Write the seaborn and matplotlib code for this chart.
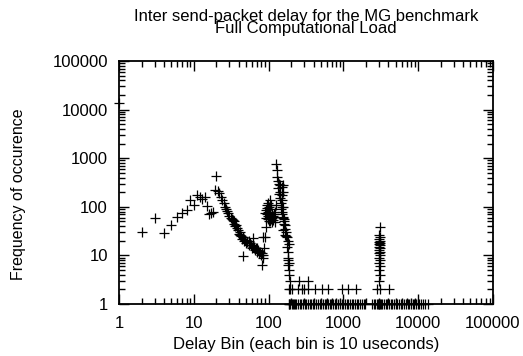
import matplotlib
matplotlib.use("Agg")
import matplotlib.pyplot as plt
import matplotlib.ticker as mticker
import seaborn as sns
import pandas as pd

# ---- data ----
rise_x = [1, 2, 3, 4, 5, 6, 7, 8, 9, 10, 11, 12, 13, 14, 15, 16, 17, 18]
rise_y = [13700, 30, 60, 29, 42, 61, 76, 85, 136, 109, 172, 160, 144, 160, 105, 70, 74, 78]

fall_x = [19, 20, 21, 22, 23, 24, 25, 26, 27, 28, 29, 30, 31, 32, 33, 34, 35, 36, 37, 38,
          39, 40, 41, 42, 43, 44, 45, 46, 47, 48, 50, 52, 54, 55, 56, 58, 59, 60, 62, 62,
          63, 65, 67, 69, 71, 73, 75, 77, 79, 81, 83, 46, 81, 85, 87, 90, 92, 85]
fall_y = [222, 430, 215, 188, 160, 138, 121, 100, 88, 82, 76, 65, 58, 55, 53, 52, 45, 40, 42, 36,
          33, 28, 26, 30, 25, 22, 24, 23.5, 20, 21, 18, 19, 16, 20, 18, 16, 16, 14, 15, 23,
          15, 13, 14, 14, 12, 13, 11, 12, 10, 11, 9, 9.7, 6.3, 10, 14, 24, 39, 24]

peak_x = [89, 91, 93, 94, 95, 96, 97, 98, 99, 99, 100, 101, 102, 103, 104, 104, 105, 106,
          107, 108, 109, 110, 111, 112, 113, 115, 117, 119, 121, 123, 125, 126, 128, 130,
          132, 134, 136, 138, 141, 141, 143, 145, 147, 149, 149, 149, 149, 151, 153, 155,
          157, 157, 157, 157, 157, 159, 161, 163, 166, 166, 168, 170, 172, 175, 177, 179,
          181, 183, 184, 185, 186, 187, 183, 185]
peak_y = [73, 60, 85, 93, 70, 110, 55, 65, 117, 79, 100, 60, 52, 75, 138, 68, 50, 90,
          55, 62, 109, 70, 48, 58, 65, 53, 72, 62, 49, 80, 110, 760, 560, 420,
          345, 240, 300, 180, 280, 205, 150, 120, 90, 260, 175, 138, 79, 100, 70, 60,
          280, 205, 101, 62, 33, 50, 45, 55, 42, 26, 35, 30, 25, 24, 15, 12,
          9, 8, 6.3, 5, 4, 7, 20, 17]

low_x = [192, 258, 340,
         190, 195, 203, 250, 277, 300, 340, 417, 512, 628, 948, 1163, 1474, 2800, 4100]
low_y = [3, 3, 3,
         2, 2, 2, 2, 2, 2, 2, 2, 2, 2, 2, 2, 2, 2, 2]

spike_x = [3050, 3000, 3100, 2950, 3050, 3000, 3100, 2950, 3050, 3000, 3100, 2950,
           3050, 3000, 3100, 2950, 3050, 3000, 3100, 2950, 3050, 3000, 3100]
spike_y = [38, 26, 24, 22, 20, 19, 18, 17, 16, 15, 14, 13,
           12, 11, 10, 9, 8, 7, 6, 5, 4, 3, 2]

one_x = [185, 190, 196, 203, 210, 218, 226, 236, 250, 262, 275, 290, 305, 320, 338, 355,
         372, 390, 410, 432, 455, 480, 505, 532, 560, 590, 622, 655, 690, 727, 766, 807,
         850, 896, 944, 995, 1048, 1104, 1163, 1225, 1290, 1360, 1432, 1510, 1590, 1675,
         1765, 1860, 1960, 2410, 2540, 2680, 2820, 2900, 2960, 3020, 3080, 3140, 3300,
         3480, 3660, 3860, 4060, 4280, 4510, 4750, 5000, 5270, 5550, 5850, 6160, 6490,
         6840, 7200, 7590, 8000, 8420, 8870, 9350, 9850, 10400, 11000, 11600, 12300, 13500]
one_y = [1] * len(one_x)

df = pd.DataFrame({
    "bin": rise_x + fall_x + peak_x + low_x + spike_x + one_x,
    "freq": rise_y + fall_y + peak_y + low_y + spike_y + one_y,
})

sns.set_style("ticks")
plt.rcParams["font.family"] = ["Liberation Sans", "DejaVu Sans"]
plt.rcParams["text.color"] = "black"
plt.rcParams["axes.labelcolor"] = "black"
plt.rcParams["xtick.color"] = "black"
plt.rcParams["ytick.color"] = "black"

fig = plt.figure(figsize=(5.23, 3.56), dpi=100)
ax = fig.add_axes([119 / 523, 1 - 304 / 356, 374 / 523, 243 / 356])

sns.scatterplot(data=df, x="bin", y="freq", marker="+", color="black",
                s=55, linewidth=0.9, ax=ax, clip_on=False, legend=False, zorder=3)

ax.set_xscale("log")
ax.set_yscale("log")
ax.set_xlim(1, 1e5)
ax.set_ylim(1, 1e5)

ticks = [1, 10, 100, 1000, 10000, 100000]
labels = ["1", "10", "100", "1000", "10000", "100000"]
ax.xaxis.set_major_locator(mticker.FixedLocator(ticks))
ax.yaxis.set_major_locator(mticker.FixedLocator(ticks))
ax.set_xticklabels(labels)
ax.set_yticklabels(labels)
ax.xaxis.set_minor_locator(mticker.LogLocator(base=10, subs=range(2, 10), numticks=20))
ax.yaxis.set_minor_locator(mticker.LogLocator(base=10, subs=range(2, 10), numticks=20))
ax.xaxis.set_minor_formatter(mticker.NullFormatter())
ax.yaxis.set_minor_formatter(mticker.NullFormatter())

ax.tick_params(which="both", direction="in", top=True, right=True, colors="black",
               labelsize=12, width=1)
ax.tick_params(which="major", length=7)
ax.tick_params(axis="x", which="major", pad=9)
ax.tick_params(axis="y", which="major", pad=8)
ax.tick_params(which="minor", length=4)
for sp in ax.spines.values():
    sp.set_visible(True)
    sp.set_linewidth(1.3)
    sp.set_color("black")

ax.set_xlabel("Delay Bin (each bin is 10 useconds)", fontsize=12, labelpad=4, color="black")
ax.set_ylabel("Frequency of occurence", fontsize=11.5, color="black")
ax.yaxis.set_label_coords(-93 / 374, (304 - 194) / 243)
ax.set_title("Inter send-packet delay for the MG benchmark\nFull Computational Load",
             fontsize=12, linespacing=0.78, pad=20, color="black")

fig.savefig("out.png", dpi=100)
